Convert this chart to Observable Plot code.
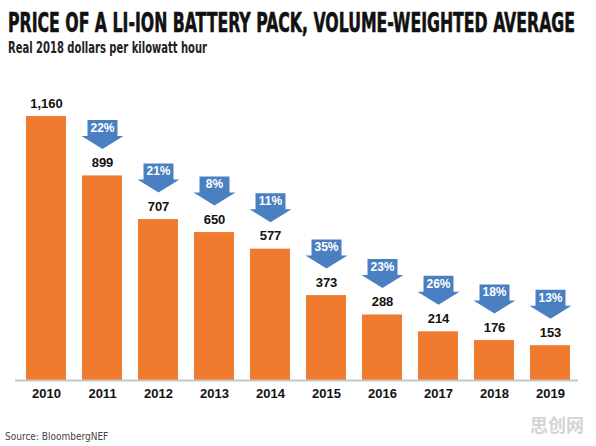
<!DOCTYPE html>
<html>
<head>
<meta charset="utf-8">
<script src="https://cdn.jsdelivr.net/npm/d3@7"></script>
<script src="https://cdn.jsdelivr.net/npm/@observablehq/plot@0.6"></script>
<style>
  html, body { margin: 0; padding: 0; background: #fff; }
  body { width: 596px; height: 446px; overflow: hidden; position: relative; font-family: 'Liberation Sans Narrow', 'DejaVu Sans Condensed', sans-serif; }
  #title { position: absolute; left: 8px; top: 9px; font-size: 27px; line-height: 27px; font-weight: bold; color: #111; white-space: nowrap; transform-origin: 0 0; -webkit-text-stroke: 0.6px #111; }
  #subtitle { position: absolute; left: 8px; top: 40px; font-size: 16px; line-height: 16px; font-weight: bold; color: #222; white-space: nowrap; transform-origin: 0 0; }
  #chart { position: absolute; left: 0; top: 64px; }
  #source { position: absolute; left: 5px; top: 432px; font-size: 10px; line-height: 10px; color: #444; white-space: nowrap; }
  #wm { position: absolute; left: 530px; top: 414px; font-family: 'Noto Sans CJK SC', sans-serif; font-size: 18px; line-height: 20px; font-weight: bold; color: #d4d4d4; }
</style>
</head>
<body>
<div id="title">PRICE OF A LI-ION BATTERY PACK, VOLUME-WEIGHTED AVERAGE</div>
<div id="subtitle">Real 2018 dollars per kilowatt hour</div>
<div id="chart"></div>
<div id="source">Source: BloombergNEF</div>
<div id="wm">思创网</div>
<script>
const years = ["2010","2011","2012","2013","2014","2015","2016","2017","2018","2019"];
const prices = [1160, 899, 707, 650, 577, 373, 288, 214, 176, 153];
const declines = [null, 22, 21, 8, 11, 35, 23, 26, 18, 13];

const data = years.map((year, i) => ({year, price: prices[i], decline: declines[i]}));
const arrows = data.filter(d => d.decline != null);

const arrowSymbol = {
  draw(ctx) {
    ctx.moveTo(-15, -56);
    ctx.lineTo(15, -56);
    ctx.lineTo(15, -40);
    ctx.lineTo(21, -40);
    ctx.lineTo(0, -27);
    ctx.lineTo(-21, -40);
    ctx.lineTo(-15, -40);
    ctx.closePath();
  }
};

const fmt = d3.format(",");

const chart = Plot.plot({
  width: 596,
  height: 360,
  marginLeft: 8,
  marginRight: 8,
  marginTop: 52,
  marginBottom: 44,
  style: {fontFamily: "'Liberation Sans Narrow', sans-serif", background: "transparent"},
  x: {domain: years, padding: 0.29, axis: null},
  y: {domain: [0, 1160], axis: null},
  marks: [
    Plot.barY(data, {x: "year", y: "price", fill: "#f07a2e"}),
    Plot.ruleY([0], {stroke: "#c6c6c6", strokeWidth: 2, insetLeft: 7, insetRight: 10}),
    Plot.axisX({tickSize: 0, tickPadding: 8, fontSize: 13, fontWeight: "bold", fill: "#111", label: null}),
    Plot.text(data, {x: "year", y: "price", text: d => fmt(d.price), dy: -13, fontSize: 13, fontWeight: "bold", fill: "#111"}),
    Plot.dot(arrows, {x: "year", y: "price", symbol: arrowSymbol, fill: "#4a80c1", stroke: "none", r: 5}),
    Plot.text(arrows, {x: "year", y: "price", text: d => d.decline + "%", dy: -48, fontSize: 12, fontWeight: "bold", fill: "#fff"})
  ]
});
document.getElementById("chart").appendChild(chart);

function fit(id, w) {
  const el = document.getElementById(id);
  const cur = el.getBoundingClientRect().width;
  el.style.transform = `scaleX(${w / cur})`;
}
fit("title", 567);
fit("subtitle", 199);
</script>
</body>
</html>
